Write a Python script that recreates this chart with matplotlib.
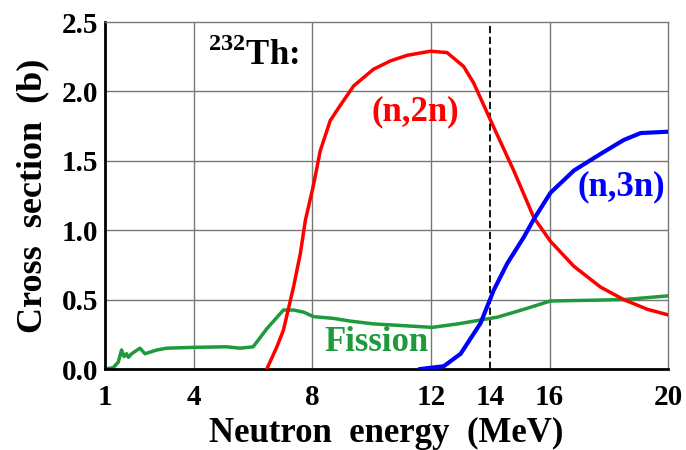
import matplotlib
matplotlib.use("Agg")
import matplotlib.pyplot as plt

plt.rcParams['font.family'] = ['Liberation Serif', 'DejaVu Serif']
plt.rcParams['font.weight'] = 'bold'
plt.rcParams['mathtext.fontset'] = 'custom'
plt.rcParams['mathtext.rm'] = 'Liberation Serif:bold'
plt.rcParams['mathtext.bf'] = 'Liberation Serif:bold'

# fission
fis_e = [1.0, 1.28, 1.45, 1.56, 1.64, 1.73, 1.79, 1.9, 2.18, 2.35, 2.75, 3.08, 4.0, 5.1,
         5.56, 6.0, 6.46, 7.02, 7.36, 7.7, 8.04, 8.7, 9.28, 10.06, 12.04, 12.9, 13.67,
         14.23, 15.13, 16.03, 18.5, 20.0]
fis_xs = [0.0, 0.01, 0.05, 0.137, 0.09, 0.11, 0.084, 0.11, 0.15, 0.11, 0.137, 0.15, 0.156,
          0.16, 0.15, 0.16, 0.29, 0.425, 0.425, 0.41, 0.377, 0.365, 0.345, 0.325, 0.30,
          0.325, 0.353, 0.373, 0.43, 0.49, 0.50, 0.527]

# (n,2n)
n2n_e = [6.46, 6.8, 7.02, 7.18, 7.36, 7.59, 7.76, 8.04, 8.26, 8.6, 8.94, 9.39, 10.06,
         10.63, 11.19, 11.98, 12.54, 13.1, 13.44, 14.12, 14.79, 15.47, 16.03, 16.82,
         17.72, 18.5, 19.3, 20.0]
n2n_xs = [0.0, 0.16, 0.28, 0.425, 0.59, 0.83, 1.07, 1.33, 1.57, 1.79, 1.9, 2.04, 2.16,
          2.22, 2.26, 2.29, 2.28, 2.18, 2.06, 1.74, 1.43, 1.09, 0.92, 0.74, 0.59, 0.50,
          0.43, 0.39]

# (n,3n)
n3n_e = [11.64, 12.43, 13.0, 13.67, 14.12, 14.57, 15.13, 15.47, 16.03, 16.82, 17.72,
         18.5, 19.07, 20.0]
n3n_xs = [0.0, 0.02, 0.11, 0.33, 0.57, 0.76, 0.95, 1.08, 1.27, 1.43, 1.55, 1.65, 1.70,
          1.71]

x_ticks = [1, 4, 8, 12, 14, 16, 20]
x_grid = [4, 8, 12, 16]
y_ticks = [0.0, 0.5, 1.0, 1.5, 2.0, 2.5]

red = "#ff0000"
blue = "#0000ff"
green = "#1e9a3c"

fig = plt.figure(figsize=(6.86, 4.5), dpi=100)
ax = fig.add_axes([0.153, 0.18, 0.821, 0.771])

for x in x_grid:
    ax.axvline(x, color="#777777", linewidth=1, zorder=0)
for y in y_ticks[1:-1]:
    ax.axhline(y, color="#777777", linewidth=1, zorder=0)

ax.axvline(14, color="black", linewidth=1.3, linestyle=(0, (4, 2)), zorder=1)

ax.plot(fis_e, fis_xs, color=green, linewidth=2.5, zorder=2)
ax.plot(n2n_e, n2n_xs, color=red, linewidth=2.5, zorder=3)
ax.plot(n3n_e, n3n_xs, color=blue, linewidth=3, zorder=4)

ax.set_xlim(1, 20)
ax.set_ylim(0, 2.5)
ax.set_xticks(x_ticks)
ax.set_xticklabels([str(t) for t in x_ticks])
ax.set_yticks(y_ticks)
ax.set_yticklabels(["%.1f" % t for t in y_ticks])
ax.tick_params(length=0, labelsize=21)
ax.tick_params(axis="x", pad=11)
ax.tick_params(axis="y", pad=5)
for lab in ax.get_xticklabels() + ax.get_yticklabels():
    lab.set_fontweight("bold")

for s in ["left", "bottom"]:
    ax.spines[s].set_linewidth(2)
    ax.spines[s].set_color("black")
for s in ["top", "right"]:
    ax.spines[s].set_linewidth(1)
    ax.spines[s].set_color("#777777")

ax.set_xlabel("Neutron  energy  (MeV)", fontsize=25, fontweight="bold", labelpad=4)
ax.set_ylabel("Cross  section  (b)", fontsize=26, fontweight="bold", labelpad=9)

ax.text(11.47, 1.85, "(n,2n)", color=red, fontsize=25, fontweight="bold",
        ha="center", va="center")
ax.text(18.43, 1.31, "(n,3n)", color=blue, fontsize=25, fontweight="bold",
        ha="center", va="center")
ax.text(10.16, 0.19, "Fission", color=green, fontsize=25, fontweight="bold",
        ha="center", va="center")
ax.text(6.0, 2.26, r"$^{\mathbf{232}}$Th:", color="black", fontsize=25,
        fontweight="bold", ha="center", va="center")

fig.savefig("out.png", dpi=100)
